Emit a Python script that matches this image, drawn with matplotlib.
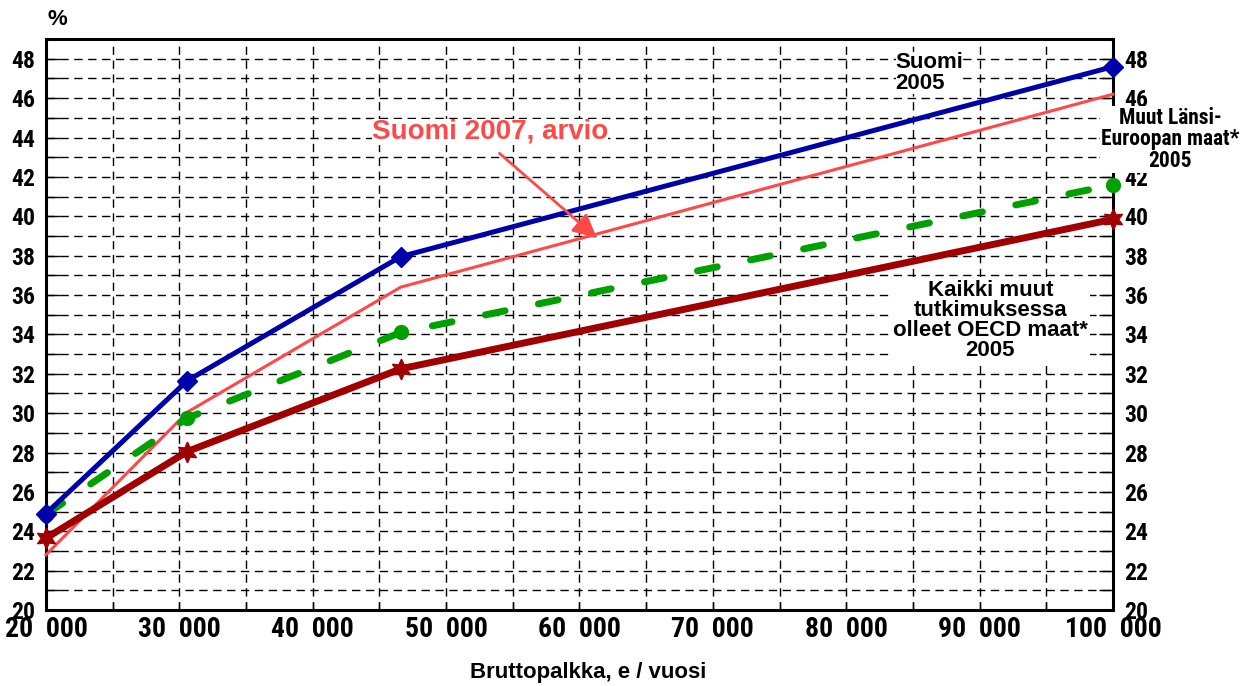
import numpy as np
import matplotlib.pyplot as plt
from matplotlib.ticker import MultipleLocator, FixedLocator

# data
palkka = [20000, 30600, 46600, 100000]
suomi_2005 = [24.9, 31.65, 37.95, 47.6]
suomi_2007 = [22.8, 30.05, 36.4, 46.2]
lansi_eurooppa = [24.85, 29.75, 34.1, 41.6]
oecd_muut = [23.65, 28.05, 32.25, 39.85]

x_ticks = [20000, 30000, 40000, 50000, 60000, 70000, 80000, 90000, 100000]
x_labels = ["20  000", "30  000", "40  000", "50  000", "60  000",
            "70  000", "80  000", "90  000", "100  000"]
y_ticks = list(range(20, 49, 2))

narrow = ['Liberation Sans Narrow', 'Roboto Condensed', 'Barlow Semi Condensed', 'DejaVu Sans']
arial = ['Liberation Sans', 'DejaVu Sans']

fig = plt.figure(figsize=(12.52, 6.86), dpi=100)
ax = fig.add_axes([0.0367, 0.1108, 0.8523, 0.8322])

ax.set_xlim(20000, 100000)
ax.set_ylim(20, 49)

# grid
ax.xaxis.set_major_locator(FixedLocator(x_ticks))
ax.xaxis.set_minor_locator(MultipleLocator(5000))
ax.yaxis.set_major_locator(FixedLocator(y_ticks))
ax.yaxis.set_minor_locator(MultipleLocator(1))
ax.grid(True, which='both', color='black', linestyle=(0, (6, 4)), linewidth=1.0)
ax.set_axisbelow(True)

for s in ax.spines.values():
    s.set_linewidth(2.2)

ax.tick_params(axis='y', which='both', direction='in', length=10, width=1,
               left=True, right=True, labelleft=True, labelright=True, pad=8)
ax.tick_params(axis='x', which='both', direction='in', length=6, width=1, pad=4)
ax.set_xticklabels(x_labels)
ax.set_yticks(y_ticks)
ax.set_yticklabels([str(v) for v in y_ticks])
for lab in ax.get_yticklabels() + ax.get_xticklabels():
    lab.set_family(narrow)
    lab.set_fontweight('bold')
for lab in ax.get_yticklabels():
    lab.set_fontsize(17)
for lab in ax.get_xticklabels():
    lab.set_fontsize(20)

# series
ax.plot(palkka, suomi_2007, color='#ff4848', linewidth=2.2, zorder=3, clip_on=False)
ax.plot(palkka, lansi_eurooppa, color='#00a000', linewidth=5, linestyle=(0, (2.9, 4.9)),
        dash_capstyle='round', marker='o', markersize=10, zorder=4, clip_on=False)
ax.plot(palkka, oecd_muut, color='#a00000', linewidth=5, marker=(6, 1, 0), markersize=15,
        zorder=5, clip_on=False)
ax.plot(palkka, suomi_2005, color='#0000aa', linewidth=3.6, marker='D', markersize=10,
        zorder=6, clip_on=False)

# annotations
ax.text(53300, 44.3, "Suomi 2007, arvio", ha='center', va='center', fontsize=20,
        fontweight='bold', color='#ff4848', family=arial, zorder=7,
        bbox=dict(facecolor='white', edgecolor='none', pad=0))
ax.annotate("", xy=(61300, 38.9), xytext=(54000, 43.2),
            arrowprops=dict(arrowstyle='-|>', color='#ff4848', lw=2,
                            mutation_scale=36, shrinkA=0, shrinkB=0), zorder=7)

ax.text(83700, 47.3, "Suomi\n2005", ha='left', va='center', fontsize=16,
        fontweight='bold', family=arial, linespacing=1.0, zorder=7,
        bbox=dict(facecolor='white', edgecolor='none', pad=0))

ax.text(104300, 43.9, "Muut Länsi-\nEuroopan maat*\n2005", ha='center', va='center',
        fontsize=15.5, fontweight='bold', family=narrow, linespacing=0.95, zorder=8,
        bbox=dict(facecolor='white', edgecolor='none', pad=1), clip_on=False)

ax.text(90800, 34.7, "Kaikki muut\ntutkimuksessa\nolleet OECD maat*\n2005", ha='center',
        va='center', fontsize=16, fontweight='bold', family=arial, linespacing=0.95,
        zorder=7, bbox=dict(facecolor='white', edgecolor='none', pad=2))

fig.text(0.038, 0.972, "%", ha='left', va='center', fontsize=16, fontweight='bold',
         family=arial)
fig.text(0.47, 0.02, "Bruttopalkka, e / vuosi", ha='center', va='center',
         fontsize=16, fontweight='bold', family=arial)

fig.savefig('out.png', dpi=100)
